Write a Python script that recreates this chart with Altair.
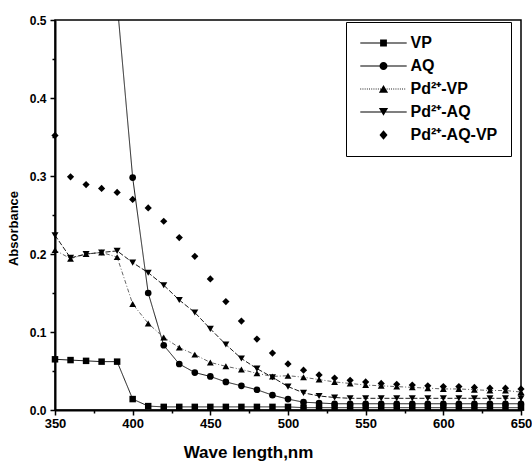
import altair as alt
import pandas as pd

# Absorption spectra, 350-650 nm sampled every 10 nm
wavelength = list(range(350, 651, 10))

vp = [0.065, 0.064, 0.063, 0.062, 0.062, 0.014, 0.005, 0.004, 0.004, 0.004,
      0.004, 0.004, 0.004, 0.004, 0.004, 0.004, 0.003, 0.003, 0.003, 0.003,
      0.003, 0.003, 0.003, 0.003, 0.003, 0.003, 0.003, 0.003, 0.003, 0.003, 0.003]
# AQ is off scale below 390 nm
aq = [None, None, None, None, 0.522, 0.298, 0.150, 0.083, 0.059, 0.048,
      0.043, 0.036, 0.031, 0.026, 0.019, 0.014, 0.010, 0.009, 0.008, 0.008,
      0.008, 0.008, 0.008, 0.008, 0.008, 0.008, 0.008, 0.008, 0.008, 0.008, 0.008]
pd_vp = [0.205, 0.194, 0.200, 0.202, 0.196, 0.136, 0.111, 0.093, 0.080, 0.071,
         0.061, 0.056, 0.052, 0.047, 0.043, 0.044, 0.042, 0.039, 0.036, 0.034,
         0.032, 0.031, 0.030, 0.029, 0.028, 0.027, 0.027, 0.026, 0.025, 0.025, 0.023]
pd_aq = [0.224, 0.195, 0.200, 0.202, 0.204, 0.189, 0.176, 0.160, 0.141, 0.125,
         0.104, 0.084, 0.066, 0.053, 0.042, 0.030, 0.022, 0.018, 0.016, 0.015,
         0.015, 0.015, 0.015, 0.015, 0.015, 0.015, 0.015, 0.015, 0.015, 0.015, 0.015]
pd_aq_vp = [0.352, 0.299, 0.289, 0.284, 0.279, 0.270, 0.259, 0.242, 0.221, 0.197,
            0.168, 0.139, 0.114, 0.091, 0.073, 0.059, 0.051, 0.045, 0.041, 0.038,
            0.036, 0.034, 0.033, 0.032, 0.031, 0.030, 0.030, 0.029, 0.028, 0.028, 0.027]

series_names = ["VP", "AQ", "Pd²⁺-VP", "Pd²⁺-AQ", "Pd²⁺-AQ-VP"]
series_values = [vp, aq, pd_vp, pd_aq, pd_aq_vp]

x_ticks = [350, 400, 450, 500, 550, 600, 650]
x_minor = [375, 425, 475, 525, 575, 625]
y_ticks = [0.0, 0.1, 0.2, 0.3, 0.4, 0.5]
y_minor = [0.05, 0.15, 0.25, 0.35, 0.45]

rows = []
for name, vals in zip(series_names, series_values):
    for w, v in zip(wavelength, vals):
        if v is not None:
            rows.append({"wl": w, "absorb": v, "series": name})
df = pd.DataFrame(rows)

FONT = "Liberation Sans"
x_scale = alt.Scale(domain=[350, 650], nice=False, zero=False)
y_scale = alt.Scale(domain=[0, 0.5], nice=False, zero=False)

# marker shapes for the plotted points
point_shapes = ["square", "circle", "triangle-up", "triangle-down", "diamond"]
point_sizes = [42, 52, 60, 60, 76]


def bar(x0, x1, h=0.12):
    """Thin filled strip used as the line part of a legend glyph."""
    return f"M{x0:.2f},{-h}L{x1:.2f},{-h}L{x1:.2f},{h}L{x0:.2f},{h}Z"


# legend glyphs: a line through the marker (units of half the symbol width)
L = 5.8
solid = bar(-L, L)
dotted = "".join(bar(-L + i * 0.55, -L + i * 0.55 + 0.22, 0.1)
                 for i in range(int(2 * L / 0.55) + 1) if -L + i * 0.55 + 0.22 <= L)
legend_paths = [
    solid + "M-0.85,-0.85L0.85,-0.85L0.85,0.85L-0.85,0.85Z",
    solid + "M-1,0C-1,-0.5523,-0.5523,-1,0,-1C0.5523,-1,1,-0.5523,1,0"
    "C1,0.5523,0.5523,1,0,1C-0.5523,1,-1,0.5523,-1,0Z",
    dotted + "M0,-1L1.15,0.95L-1.15,0.95Z",
    solid + "M0,0.95L-1.15,-1L1.15,-1Z",
    "M0,-1.2L1,0L0,1.2L-1,0Z",
]

main_x = alt.X("wl:Q", scale=x_scale, axis=alt.Axis(
    values=x_ticks, title="Wave length,nm", labelFontSize=13, labelPadding=2,
    tickSize=5, titleFontSize=17, titleX=193, titleY=42, titleAlign="center",
    titleBaseline="middle"))
main_y = alt.Y("absorb:Q", scale=y_scale, axis=alt.Axis(
    values=y_ticks, format=".1f", title="Absorbance", labelFontSize=12,
    labelPadding=4, tickSize=5, titleFontSize=13, titleX=-42, titleY=208,
    titleAngle=270, titleAlign="center", titleBaseline="middle"))
plain_x = alt.X("wl:Q", scale=x_scale, axis=None)
plain_y = alt.Y("absorb:Q", scale=y_scale, axis=None)

lines = alt.Chart(df).transform_filter(
    alt.datum.series != "Pd²⁺-AQ-VP"
).mark_line(clip=True, strokeWidth=0.9).encode(
    x=main_x, y=main_y,
    color=alt.Color("series:N", scale=alt.Scale(
        domain=series_names, range=["black", "black", "#555555", "black", "black"]), legend=None),
    strokeDash=alt.StrokeDash("series:N", scale=alt.Scale(
        domain=series_names, range=[[1, 0], [1, 0], [4, 2, 1, 2], [5, 2], [1, 0]]), legend=None),
)

points = alt.Chart(df).transform_filter(
    alt.datum.absorb <= 0.5
).mark_point(filled=True, color="black", opacity=1).encode(
    x=plain_x, y=plain_y,
    shape=alt.Shape("series:N", scale=alt.Scale(domain=series_names, range=point_shapes), legend=None),
    size=alt.Size("series:N", scale=alt.Scale(domain=series_names, range=point_sizes), legend=None),
)

legend_layer = alt.Chart(df).mark_point(
    filled=True, color="black", opacity=0, size=64
).encode(
    x=plain_x, y=plain_y,
    shape=alt.Shape("series:N", scale=alt.Scale(domain=series_names, range=legend_paths),
                    legend=alt.Legend(
                        title=None, orient="none", legendX=291, legendY=2,
                        symbolOpacity=1, symbolSize=64, symbolFillColor="black",
                        symbolStrokeWidth=0,
                        symbolOffset=16.5, labelOffset=19, padding=13, rowPadding=7,
                        labelFont=FONT, labelFontSize=16, labelFontWeight="bold",
                        labelColor="black", labelLimit=300, strokeColor="black",
                        fillColor="white")),
)

minor = alt.Chart(df).mark_point(opacity=0).encode(
    x=alt.X("wl:Q", scale=x_scale, axis=alt.Axis(
        orient="bottom", values=x_minor, labels=False, domain=False, tickSize=3,
        title=None)),
    y=alt.Y("absorb:Q", scale=y_scale, axis=alt.Axis(
        orient="left", values=y_minor, labels=False, domain=False, tickSize=3,
        title=None)),
)

chart = alt.layer(lines, points, legend_layer, minor).resolve_scale(
    shape="independent", size="independent"
).resolve_legend(shape="independent").resolve_axis(
    x="independent", y="independent"
).properties(
    width=466, height=390,
    autosize=alt.AutoSizeParams(type="none"),
    padding={"left": 55, "top": 20, "right": 11, "bottom": 54},
).configure_view(
    stroke="black", strokeWidth=1.5
).configure_axis(
    grid=False, domainColor="black", domainWidth=2, tickColor="black",
    tickWidth=1.5, labelColor="black", labelFont=FONT, labelFontWeight="bold",
    titleColor="black", titleFont=FONT, titleFontWeight="bold", labelFlush=False,
)

chart.save("out.html", embed_options={"renderer": "svg", "actions": False})
